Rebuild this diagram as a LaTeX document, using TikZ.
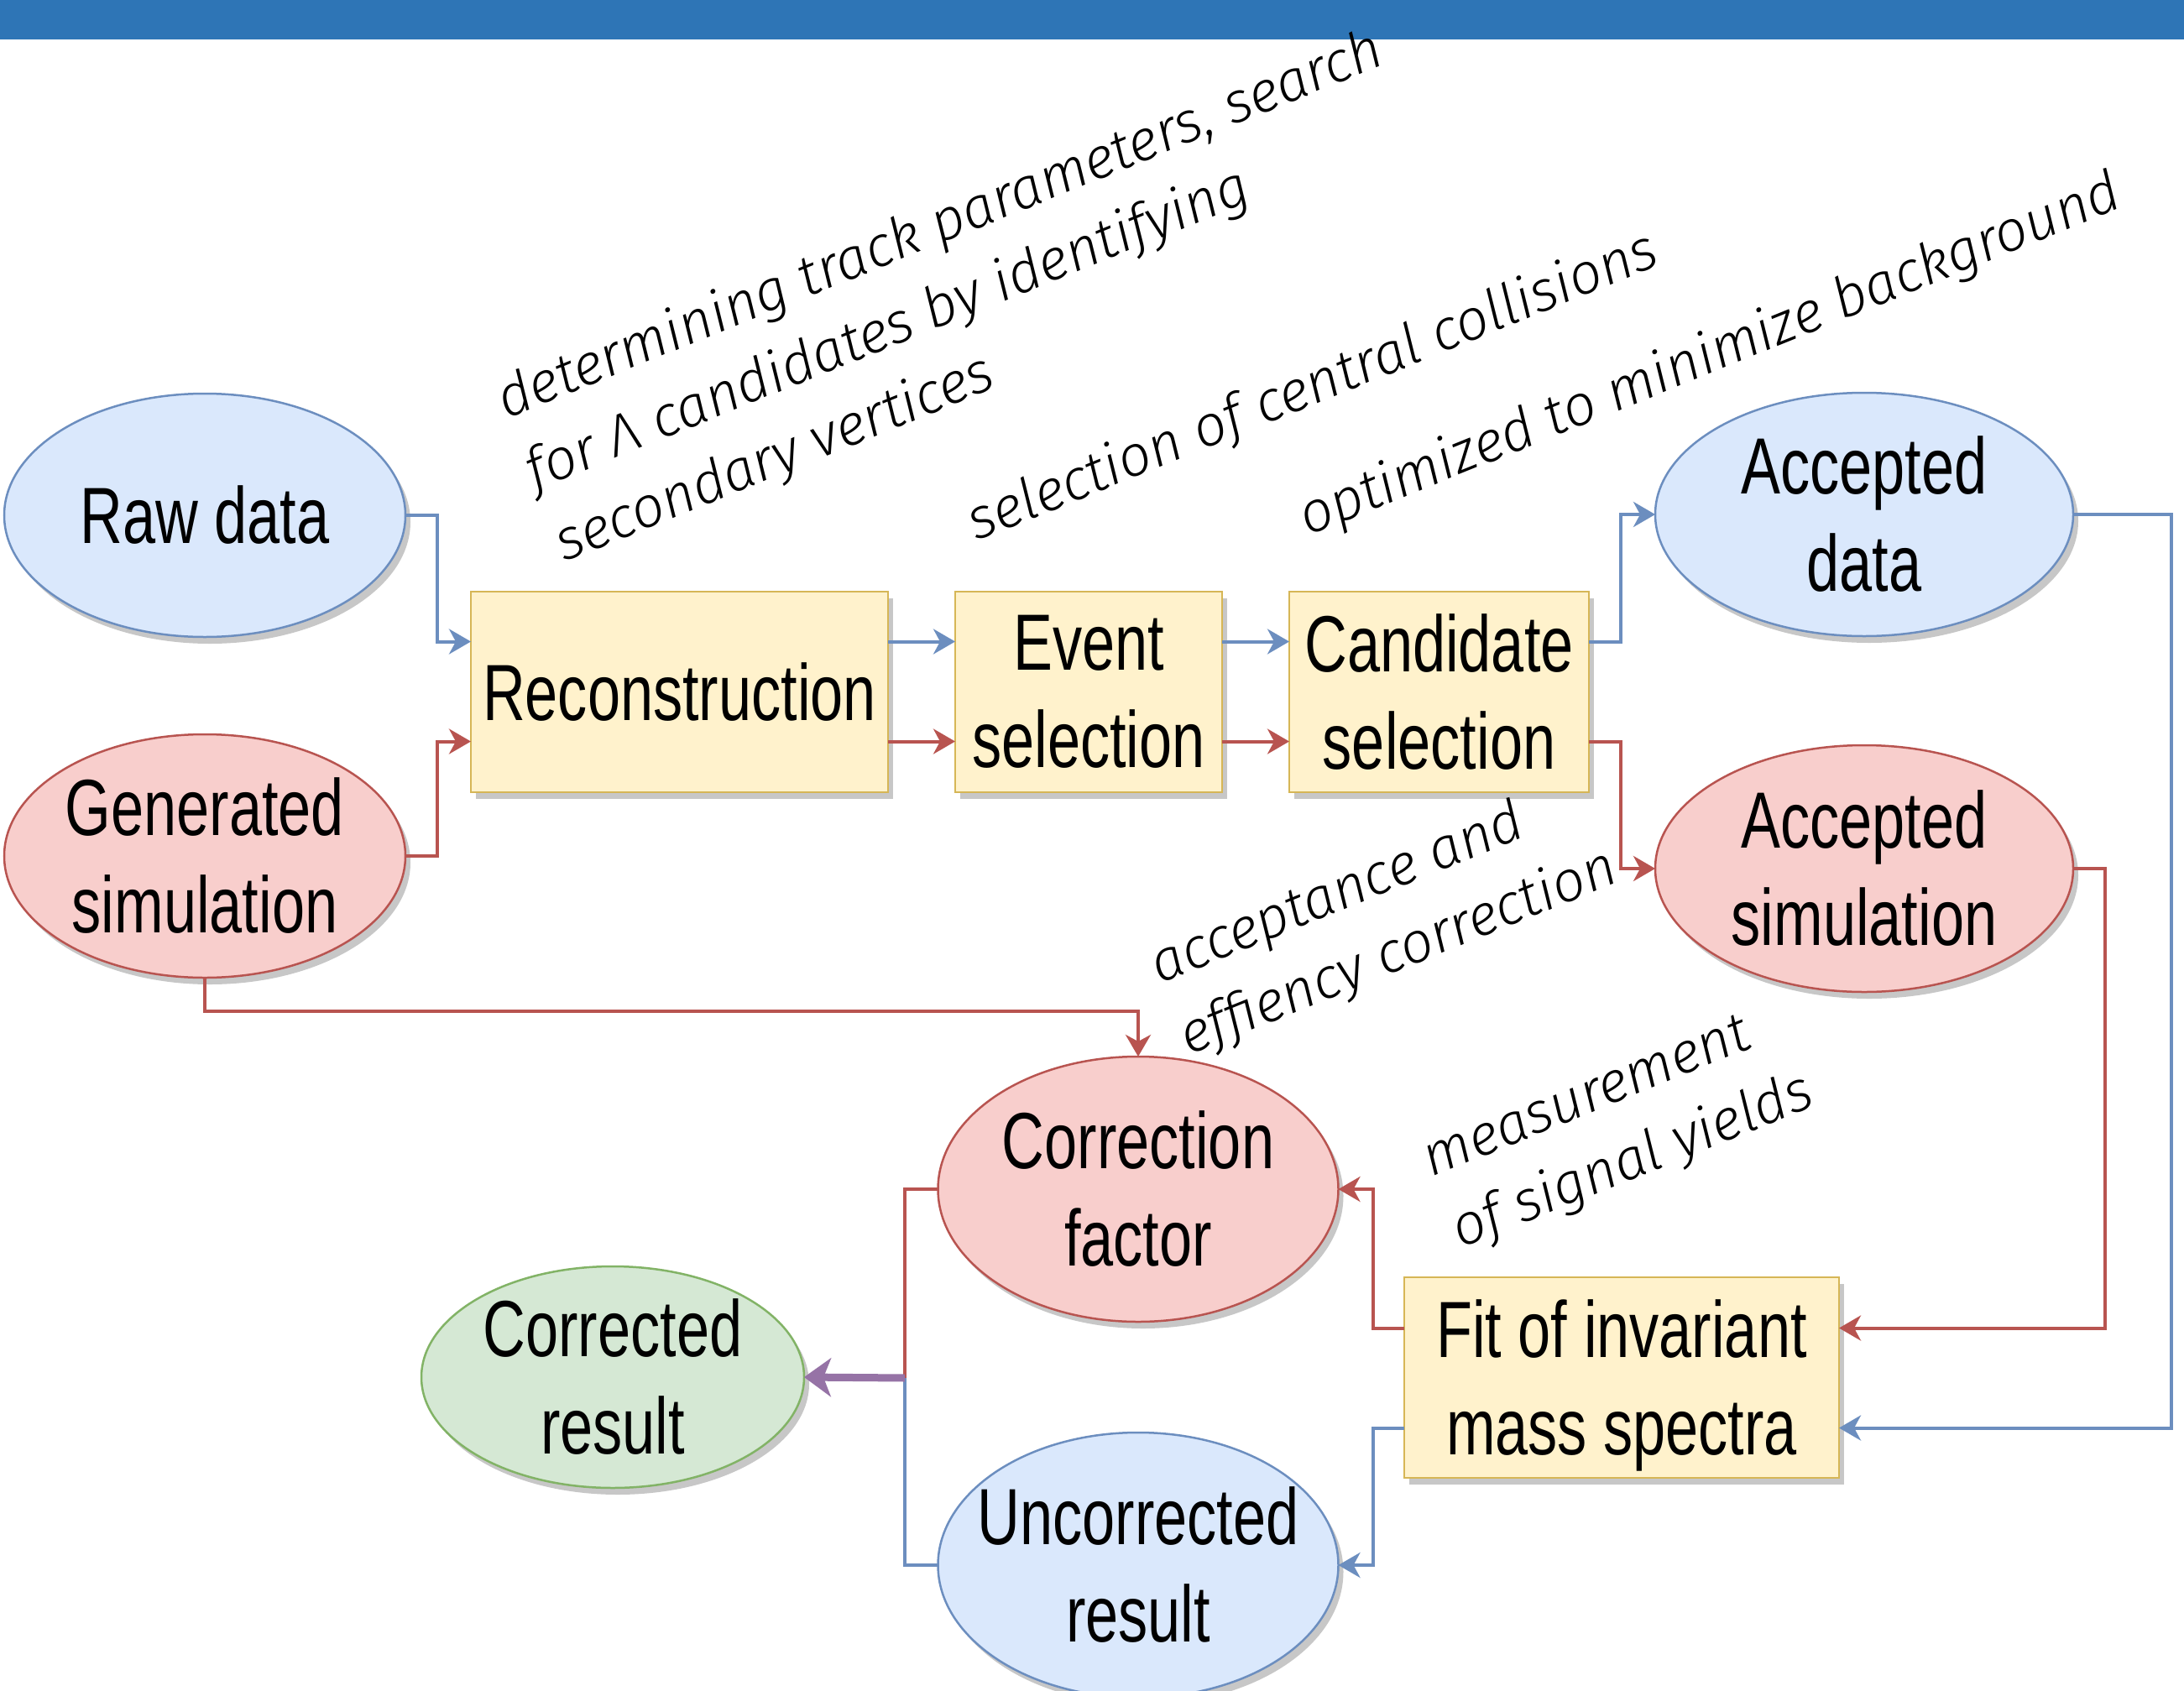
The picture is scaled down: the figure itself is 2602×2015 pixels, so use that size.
\documentclass[tikz,border=0pt]{standalone}
\usepackage{fontspec}
\usetikzlibrary{shadows,arrows.meta,shapes.geometric}
\newfontfamily\boxfont{Liberation Sans}[FakeStretch=0.74]
\newfontfamily\lblfont{Fira Sans Light}[ItalicFont={Fira Sans Light Italic}]
\definecolor{bluefill}{HTML}{DAE8FC}
\definecolor{bluedraw}{HTML}{6C8EBF}
\definecolor{redfill}{HTML}{F8CECC}
\definecolor{reddraw}{HTML}{B85450}
\definecolor{yelfill}{HTML}{FFF2CC}
\definecolor{yeldraw}{HTML}{D6B656}
\definecolor{grnfill}{HTML}{D5E8D4}
\definecolor{grndraw}{HTML}{82B366}
\definecolor{purp}{HTML}{9673A6}
\definecolor{titlebar}{HTML}{2E75B6}
\begin{document}
\begin{tikzpicture}[x=1pt,y=-1pt,
  mainfont/.style={font=\boxfont\fontsize{95}{116}\selectfont, align=center, text=black},
  shad/.style={drop shadow={shadow xshift=6pt, shadow yshift=-8pt, fill=black, opacity=0.22}},
  ell/.style={ellipse, line width=2.5pt, inner sep=0pt, outer sep=0pt, shad},
  blueell/.style={ell, draw=bluedraw, fill=bluefill},
  redell/.style={ell, draw=reddraw, fill=redfill},
  grnell/.style={ell, draw=grndraw, fill=grnfill},
  ctext/.style={mainfont, inner sep=0pt},
  stepbox/.style={rectangle, draw=yeldraw, fill=yelfill, line width=2.5pt, inner sep=0pt, outer sep=0pt, mainfont, minimum height=239pt, shad},
  conn/.style={line width=4pt, -{Stealth[length=26pt,width=30pt,inset=8pt]}},
  bconn/.style={conn, draw=bluedraw},
  rconn/.style={conn, draw=reddraw},
  bline/.style={line width=4pt, draw=bluedraw},
  rline/.style={line width=4pt, draw=reddraw},
  pconn/.style={line width=9pt, draw=purp, -{Stealth[length=32pt,width=46pt,inset=9pt]}},
  lbl/.style={font=\lblfont\itshape\fontsize{68}{92}\selectfont, align=left, rotate=22, anchor=base west, inner sep=0pt, text=black}
]
\useasboundingbox (0,0) rectangle (2602,2015);
\fill[titlebar] (0,0) rectangle (2602,47);

% ellipses
\node[blueell, minimum width=478pt, minimum height=290pt, label={[ctext]center:Raw data}] (raw) at (244,614) {};
\node[redell, minimum width=478pt, minimum height=290pt, label={[ctext]center:{Generated\\simulation}}] (gen) at (244,1020) {};
\node[blueell, minimum width=498pt, minimum height=290pt, label={[ctext]center:{Accepted\\data}}] (accd) at (2221,613) {};
\node[redell, minimum width=498pt, minimum height=294pt, label={[ctext]center:{Accepted\\simulation}}] (accs) at (2221,1035) {};
\node[redell, minimum width=477pt, minimum height=316pt, label={[ctext]center:{Correction\\factor}}] (corr) at (1356,1417) {};
\node[blueell, minimum width=477pt, minimum height=316pt, label={[ctext]center:{Uncorrected\\result}}] (unc) at (1356,1865) {};
\node[grnell, minimum width=456pt, minimum height=264pt, label={[ctext]center:{Corrected\\result}}] (cres) at (730,1641) {};

% boxes
\node[stepbox, minimum width=497pt] (rec) at (809.5,824.5) {Reconstruction};
\node[stepbox, minimum width=318pt] (ev) at (1297,824.5) {Event\\selection};
\node[stepbox, minimum width=357pt] (can) at (1714.5,824.5) {Candidate\\selection};
\node[stepbox, minimum width=518pt, text depth=0pt] (fit) at (1932,1641.5) {Fit of invariant\\mass spectra};

% connection points
\coordinate (recBi) at ([yshift=60pt]rec.west);
\coordinate (recRi) at ([yshift=-59pt]rec.west);
\coordinate (recBo) at ([yshift=60pt]rec.east);
\coordinate (recRo) at ([yshift=-59pt]rec.east);
\coordinate (evBi) at ([yshift=60pt]ev.west);
\coordinate (evRi) at ([yshift=-59pt]ev.west);
\coordinate (evBo) at ([yshift=60pt]ev.east);
\coordinate (evRo) at ([yshift=-59pt]ev.east);
\coordinate (canBi) at ([yshift=60pt]can.west);
\coordinate (canRi) at ([yshift=-59pt]can.west);
\coordinate (canBo) at ([yshift=60pt]can.east);
\coordinate (canRo) at ([yshift=-59pt]can.east);
\coordinate (fitRe) at ([yshift=59pt]fit.east);
\coordinate (fitBe) at ([yshift=-60pt]fit.east);
\coordinate (fitRw) at ([yshift=59pt]fit.west);
\coordinate (fitBw) at ([yshift=-60pt]fit.west);
\coordinate (join) at (1078,1642);

% connectors
\draw[bconn] (raw.east) -- ++(38,0) |- (recBi);
\draw[rconn] (gen.east) -- ++(38,0) |- (recRi);
\draw[rconn] (gen.south) -- ++(0,40) -| (corr.north);
\draw[bconn] (recBo) -- (evBi);
\draw[rconn] (recRo) -- (evRi);
\draw[bconn] (evBo) -- (canBi);
\draw[rconn] (evRo) -- (canRi);
\draw[bconn] (canBo) -- ++(38,0) |- (accd.west);
\draw[rconn] (canRo) -- ++(38,0) |- (accs.west);
\draw[bconn] (accd.east) -- ++(117,0) |- (fitBe);
\draw[rconn] (accs.east) -- ++(38,0) |- (fitRe);
\draw[rconn] (fitRw) -- ++(-37,0) |- (corr.east);
\draw[bconn] (fitBw) -- ++(-37,0) |- (unc.east);
\draw[rline] (corr.west) -| (join);
\draw[bline] (unc.west) -| (join);
\draw[pconn] (join) -- (cres.east);

% labels (anchor = baseline of the last line)
\node[lbl] (l1) at (672,670) {determining track parameters, search\\for Λ candidates by identifying\\secondary vertices};
\node[lbl] (l2) at (1163,645) {selection of central collisions};
\node[lbl] (l3) at (1558,639) {optimized to minimize background};
\node[lbl] (l4) at (1416,1258) {acceptance and\\effiency correction};
\node[lbl] (l5) at (1740,1488) {measurement\\of signal yields};
\end{tikzpicture}
\end{document}
